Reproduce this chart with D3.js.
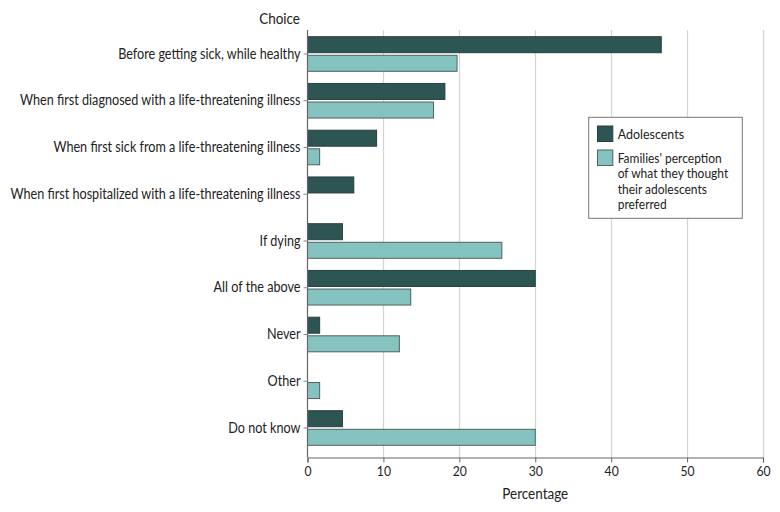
<!DOCTYPE html>
<html><head><meta charset="utf-8">
<script src="https://cdn.jsdelivr.net/npm/d3@7"></script>
<style>body{margin:0;background:#fff;} text{font-family:Lato,"Open Sans",sans-serif;fill:#222;}</style>
</head><body>
<svg id="c" width="780" height="512"></svg>
<script>
const categories = ["Before getting sick, while healthy","When first diagnosed with a life-threatening illness","When first sick from a life-threatening illness","When first hospitalized with a life-threatening illness","If dying","All of the above","Never","Other","Do not know"];
const adolescents = [46.6, 18.1, 9.1, 6.1, 4.6, 30.0, 1.6, 0, 4.6];
const families = [19.7, 16.6, 1.6, 0, 25.6, 13.6, 12.1, 1.6, 30.0];
const seriesNames = ["Adolescents", "Families' perception of what they thought their adolescents preferred"];
const legendLines = ["Families' perception","of what they thought","their adolescents","preferred"];
const xTicks = [0,10,20,30,40,50,60];
const colors = ["#2c5554", "#85c3c1"];
const FONT = "Lato, 'Open Sans', sans-serif";

const svg = d3.select("#c");
const x = d3.scaleLinear().domain([0,60]).range([307.5,763]);
const y = d3.scaleBand().domain(categories).range([36.7,445.3]).paddingInner(0.26).paddingOuter(0);
const ySub = d3.scaleBand().domain([0,1]).range([0,y.bandwidth()]).paddingInner(0.14);
const axisY = 457.5;

// gridlines
svg.append("g").selectAll("line").data(xTicks.slice(1)).join("line")
  .attr("x1",d=>Math.round(x(d))+0.5).attr("x2",d=>Math.round(x(d))+0.5)
  .attr("y1",30).attr("y2",axisY).attr("stroke","#d4d4d4").attr("stroke-width",1.2);

// bars
const data = categories.map((c,i)=>({c, vals:[adolescents[i], families[i]]}));
const g = svg.append("g");
data.forEach(d=>{
  d.vals.forEach((v,k)=>{
    if (v<=0) return;
    g.append("rect").attr("x",x(0)).attr("y",y(d.c)+ySub(k))
      .attr("width",x(v)-x(0)).attr("height",ySub.bandwidth())
      .attr("fill",colors[k]).attr("stroke",k===0?"#2a3f3f":"#555f5f").attr("stroke-width",1);
  });
});

// x axis
const xa = svg.append("g").attr("transform",`translate(0,${axisY})`)
  .call(d3.axisBottom(x).tickValues(xTicks).tickSize(5).tickPadding(4));
xa.select(".domain").attr("stroke","#666").attr("stroke-width",1.2);
xa.selectAll(".tick line").attr("stroke","#666");
xa.selectAll("text").attr("font-size",14).attr("fill","#222").style("font-family",FONT);

// y axis
const ya = svg.append("g").attr("transform",`translate(${x(0)},0)`)
  .call(d3.axisLeft(y).tickSize(4).tickPadding(3));
ya.select(".domain").attr("d",`M0,30V${axisY}`).attr("stroke","#666").attr("stroke-width",1.2);
ya.selectAll(".tick line").attr("stroke","#888");
ya.selectAll(".tick").attr("transform",d=>`translate(0,${y(d)+y.bandwidth()/2})`);
ya.selectAll("text").attr("font-size",14.5).attr("fill","#222").style("font-family",FONT);
ya.raise();

// titles
svg.append("text").attr("x",300).attr("y",19).attr("dy","0.35em").attr("text-anchor","end")
  .attr("font-size",15.5).text("Choice");
svg.append("text").attr("x",(x(0)+x(60))/2).attr("y",494).attr("dy","0.35em").attr("text-anchor","middle")
  .attr("font-size",15.5).text("Percentage");

// legend
const lg = svg.append("g");
lg.append("rect").attr("x",588.7).attr("y",117.3).attr("width",153.6).attr("height",101)
  .attr("fill","#fff").attr("stroke","#777").attr("stroke-width",1);
lg.append("rect").attr("x",597.5).attr("y",126).attr("width",15.3).attr("height",15.5)
  .attr("fill",colors[0]).attr("stroke","#2a3f3f");
lg.append("rect").attr("x",597.5).attr("y",150).attr("width",15.3).attr("height",15.5)
  .attr("fill",colors[1]).attr("stroke","#555f5f");
lg.append("text").attr("x",617.7).attr("y",134).attr("dy","0.35em").attr("font-size",13.5).text(seriesNames[0]);
legendLines.forEach((t,i)=>{
  lg.append("text").attr("x",617.7).attr("y",158.7+i*15.2).attr("dy","0.35em").attr("font-size",13).text(t);
});

// condense all text uniformly so the longest category label spans ~290px like the reference
let longest = 0;
ya.selectAll("text").each(function(){ longest = Math.max(longest, this.getComputedTextLength()); });
const k = 290 / longest;
svg.selectAll("text").each(function(){
  const w = this.getComputedTextLength();
  const kk = this.parentNode === lg.node() ? Math.min(1, k * 1.06) : k;
  if (w > 0) d3.select(this).attr("textLength", w * kk).attr("lengthAdjust","spacingAndGlyphs");
});
</script>
</body></html>
